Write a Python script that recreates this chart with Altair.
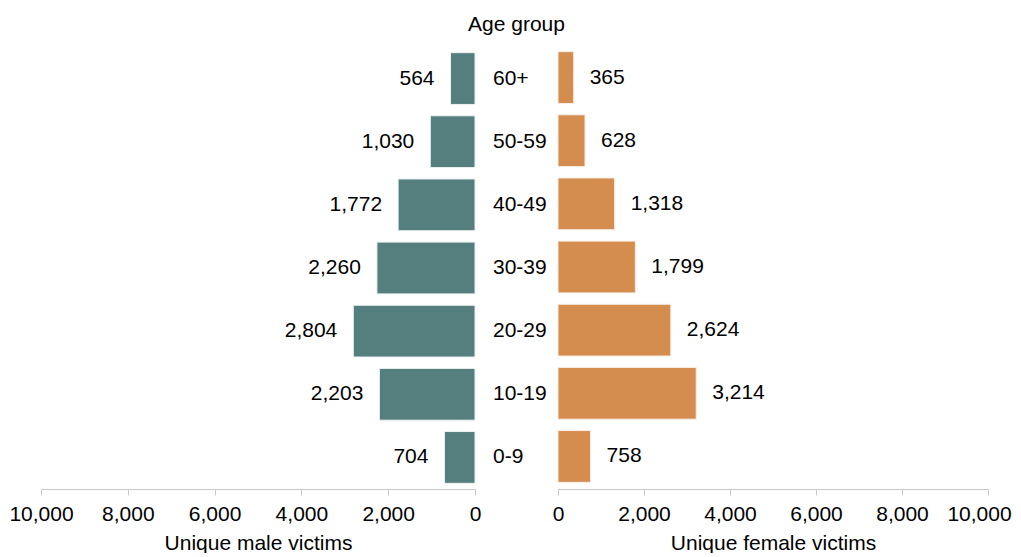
import altair as alt
import pandas as pd

ages = ["60+", "50-59", "40-49", "30-39", "20-29", "10-19", "0-9"]
male = [564, 1030, 1772, 2260, 2804, 2203, 704]
female = [365, 628, 1318, 1799, 2624, 3214, 758]
tick_values = [0, 2000, 4000, 6000, 8000, 10000]

TEAL = "#547f7e"
ORANGE = "#d58c4f"
FONT = "Liberation Sans"
FS = 21

df = pd.DataFrame({"age": ages, "male": male, "female": female})

yenc = alt.Y("age:N", sort=ages,
             scale=alt.Scale(paddingInner=0.18, paddingOuter=0.09),
             axis=None)

base = alt.Chart(df)

left_x = alt.X("male:Q",
               scale=alt.Scale(domain=[0, 10000], reverse=True, nice=False),
               axis=alt.Axis(values=tick_values, format=",.0f", title="Unique male victims"))
left = alt.layer(
    base.mark_bar(color=TEAL, stroke="#eef2f2", strokeWidth=1).encode(x=left_x, y=yenc),
    base.mark_text(align="right", baseline="middle", dx=-16, fontSize=FS, font=FONT, color="black").encode(
        x="male:Q", y=yenc, text=alt.Text("male:Q", format=",.0f")),
).properties(width=434, height=442)

middle = base.mark_text(align="left", baseline="middle", fontSize=FS, font=FONT, color="black").encode(
    y=yenc, x=alt.value(18), text="age:N"
).properties(width=83, height=442,
             title=alt.TitleParams("Age group", fontSize=FS, font=FONT, fontWeight="normal",
                                   color="black", anchor="middle", offset=12))

right_x = alt.X("female:Q",
                scale=alt.Scale(domain=[0, 10000], nice=False),
                axis=alt.Axis(values=tick_values, format=",.0f", title="Unique female victims",
                              labelOffset={"condition": {"test": "datum.value == 10000", "value": -9},
                                           "value": 0}))
right = alt.layer(
    base.mark_bar(color=ORANGE, stroke="#f8eee6", strokeWidth=1, yOffset=-1).encode(x=right_x, y=yenc),
    base.mark_text(align="left", baseline="middle", dx=16, dy=-1, fontSize=FS, font=FONT, color="black").encode(
        x="female:Q", y=yenc, text=alt.Text("female:Q", format=",.0f")),
).properties(width=430, height=442)

chart = alt.hconcat(left, middle, right, spacing=0, bounds="flush").properties(
    padding={"left": 0, "right": 0, "top": 6, "bottom": 0}
).configure_view(stroke=None).configure_axis(
    grid=False,
    domainColor="#c8c8c8",
    tickColor="#c8c8c8",
    tickSize=6,
    labelFontSize=FS,
    titleFontSize=FS,
    labelFont=FONT,
    titleFont=FONT,
    labelColor="black",
    titleColor="black",
    titleFontWeight="normal",
    labelFlush=False,
    labelPadding=8,
    titlePadding=8,
)

chart.save("out.html", embed_options={"renderer": "svg", "actions": False})
